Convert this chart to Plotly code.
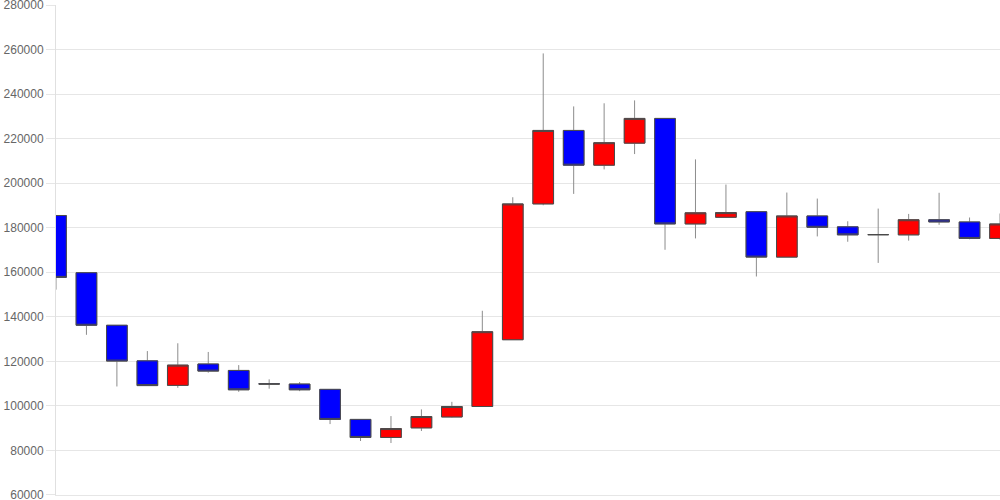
import plotly.graph_objects as go

# Day index (no x labels shown in the reference)
days = list(range(32))

opens = [185500, 159800, 136200, 120200, 109200, 118800, 115900, 109900,
         109800, 107400, 93900, 85800, 90100, 95000, 99700, 129700,
         190700, 223700, 208100, 218000, 229100, 181700, 184700, 187200,
         166800, 185300, 180400, 176900, 176800, 183600, 182600, 175200]
highs = [185500, 159800, 136200, 124600, 128100, 124200, 118300, 111900,
         110700, 107400, 94000, 95400, 98400, 101800, 142700, 193700,
         258300, 234500, 235900, 237200, 229100, 210700, 199400, 187300,
         195800, 193100, 182900, 188600, 186200, 195700, 184600, 186400]
lows = [152200, 131900, 108700, 109000, 108100, 114900, 106300, 107700,
        106600, 91800, 84200, 83300, 88700, 94800, 99700, 129700,
        190100, 195200, 206200, 213100, 170100, 175200, 184400, 158100,
        166800, 176100, 173700, 164200, 174200, 181300, 174800, 174600]
closes = [157700, 136200, 120100, 109100, 118300, 115600, 107200, 109800,
          107200, 93900, 85800, 89800, 95200, 99700, 133300, 190700,
          223700, 208100, 218200, 229100, 181700, 186700, 186800, 166800,
          185300, 180200, 176800, 176900, 183600, 182600, 175200, 181700]

y_ticks = [60000, 80000, 100000, 120000, 140000, 160000, 180000,
           200000, 220000, 240000, 260000, 280000]

body_hi = [max(o, c) for o, c in zip(opens, closes)]
body_lo = [min(o, c) for o, c in zip(opens, closes)]

fig = go.Figure()

# Wicks (gray) + bodies
fig.add_trace(go.Candlestick(
    x=days, open=opens, high=highs, low=lows, close=closes,
    increasing=dict(fillcolor="#ff0000", line=dict(color="#8c8c8c", width=1)),
    decreasing=dict(fillcolor="#0000ff", line=dict(color="#8c8c8c", width=1)),
    whiskerwidth=0, showlegend=False, hoverinfo="skip",
))
# Body outlines (darker)
fig.add_trace(go.Candlestick(
    x=days, open=opens, high=body_hi, low=body_lo, close=closes,
    increasing=dict(fillcolor="#ff0000", line=dict(color="#4a4a4a", width=1)),
    decreasing=dict(fillcolor="#0000ff", line=dict(color="#4a4a4a", width=1)),
    whiskerwidth=0, showlegend=False,
))

fig.update_layout(
    width=1000, height=500,
    margin=dict(l=56, r=0, t=5, b=5, autoexpand=False),
    paper_bgcolor="white", plot_bgcolor="white",
    boxgap=0.03, boxmode="overlay",
    font=dict(family="Liberation Sans, Arial, sans-serif", size=12, color="#666666"),
    xaxis=dict(
        range=[0, 31], showticklabels=False, showgrid=False, zeroline=False,
        showline=True, linecolor="#e6e6e6", linewidth=1,
        rangeslider=dict(visible=False), fixedrange=True,
    ),
    yaxis=dict(
        range=[59950, 280050], tickvals=y_ticks, ticktext=[str(v) for v in y_ticks],
        showgrid=True, gridcolor="#e6e6e6", gridwidth=1,
        zeroline=False, showline=True, linecolor="#e0e0e0", linewidth=1,
        ticks="outside", ticklen=9, tickcolor="#e6e6e6",
        tickfont=dict(color="#666666", size=12),
        ticklabeloverflow="allow",
        automargin=False,
    ),
)

fig.write_html("out.html", config={"displayModeBar": False},
               post_script="document.body.style.margin='0';")
